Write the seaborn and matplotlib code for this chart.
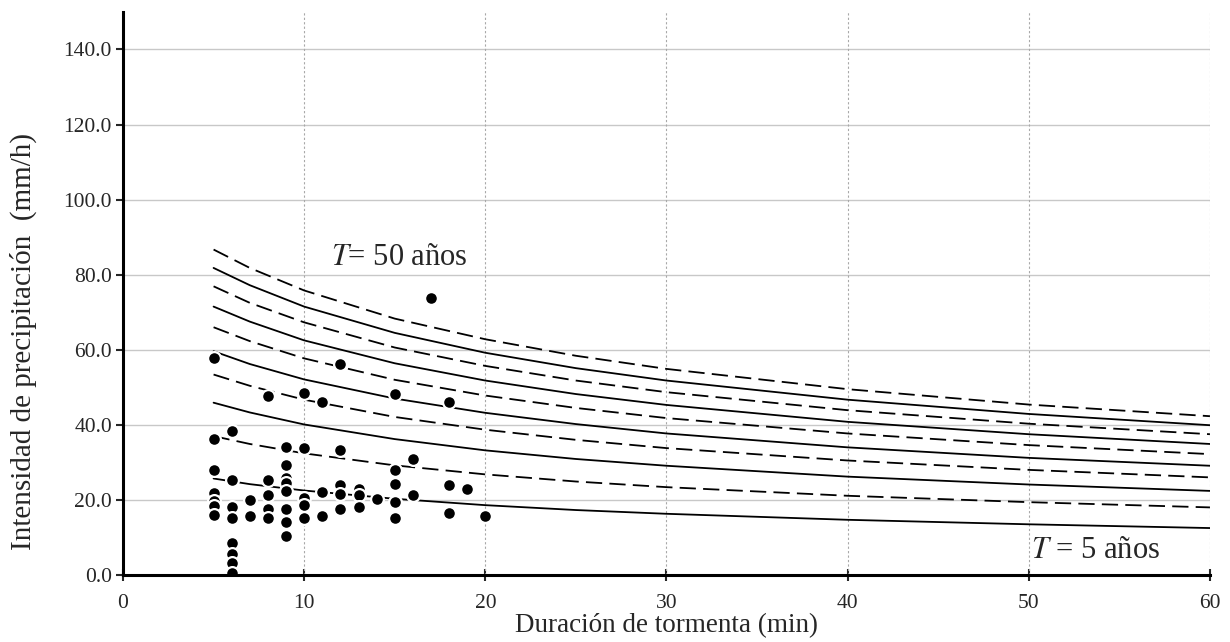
import matplotlib
matplotlib.use("Agg")
import matplotlib.pyplot as plt
import seaborn as sns
import pandas as pd
from matplotlib.ticker import FuncFormatter

# ---- data ----
durations = [5, 7, 10, 15, 20, 25, 30, 40, 50, 60]
return_periods = [5, 10, 15, 20, 25, 30, 35, 40, 45, 50]
T5 = [25.7, 24.2, 22.5, 20.3, 18.6, 17.3, 16.3, 14.7, 13.5, 12.5]
T10 = [37.0, 34.9, 32.4, 29.2, 26.8, 24.9, 23.4, 21.1, 19.4, 18.0]
T15 = [45.9, 43.3, 40.1, 36.2, 33.2, 30.9, 29.1, 26.2, 24.1, 22.4]
T20 = [53.4, 50.4, 46.7, 42.1, 38.7, 36.0, 33.8, 30.5, 28.0, 26.0]
T25 = [59.6, 56.2, 52.1, 47.0, 43.2, 40.2, 37.7, 34.0, 31.2, 29.1]
T30 = [66.0, 62.3, 57.7, 52.0, 47.8, 44.5, 41.8, 37.7, 34.6, 32.2]
T35 = [71.5, 67.5, 62.5, 56.4, 51.8, 48.2, 45.3, 40.8, 37.5, 34.9]
T40 = [76.9, 72.5, 67.3, 60.6, 55.7, 51.8, 48.7, 43.9, 40.3, 37.5]
T45 = [81.8, 77.2, 71.5, 64.5, 59.2, 55.1, 51.8, 46.7, 42.9, 39.9]
T50 = [86.7, 81.8, 75.8, 68.3, 62.8, 58.4, 54.9, 49.5, 45.4, 42.3]
curves = [T5, T10, T15, T20, T25, T30, T35, T40, T45, T50]

obs_duration = [5, 5, 5, 5, 5, 5, 5,
                6, 6, 6, 6, 6, 6, 6, 6,
                7, 7,
                8, 8, 8, 8, 8,
                9, 9, 9, 9, 9, 9, 9, 9,
                10, 10, 10, 10, 10,
                11, 11, 11,
                12, 12, 12, 12, 12,
                13, 13, 13,
                14,
                15, 15, 15, 15, 15,
                16, 16,
                17,
                18, 18, 18,
                19,
                20]
obs_intensity = [57.9, 36.3, 28.0, 21.8, 19.8, 18.3, 15.9,
                 38.4, 25.4, 18.1, 15.3, 8.4, 5.6, 3.1, 0.6,
                 20.1, 15.6,
                 47.7, 25.2, 21.4, 17.7, 15.3,
                 34.0, 29.2, 25.9, 24.5, 22.3, 17.7, 14.1, 10.3,
                 48.6, 33.9, 20.6, 18.7, 15.3,
                 46.1, 22.1, 15.6,
                 56.2, 33.2, 23.9, 21.7, 17.7,
                 23.0, 21.4, 18.0,
                 20.3,
                 48.2, 28.0, 24.3, 19.4, 15.3,
                 30.9, 21.4,
                 73.7,
                 46.0, 24.0, 16.4,
                 22.8,
                 15.7]

x_ticks = [0, 10, 20, 30, 40, 50, 60]
y_ticks = [0, 20, 40, 60, 80, 100, 120, 140]

# ---- build tables ----
rows = []
for T, vals in zip(return_periods, curves):
    for d, v in zip(durations, vals):
        rows.append({"T": T, "d": d, "i": v})
curve_df = pd.DataFrame(rows)
obs_df = pd.DataFrame({"d": obs_duration, "i": obs_intensity})

sns.set_style("white")
plt.rcParams["font.family"] = ["Liberation Serif", "DejaVu Serif"]
plt.rcParams["mathtext.fontset"] = "stix"

fig = plt.figure(figsize=(12.3, 6.42), dpi=100)
ax = fig.add_axes([0.1, 0.1044, 0.8837, 0.877])

palette = {T: "black" for T in return_periods}
dashes = {T: ("" if k % 2 == 0 else (9, 4)) for k, T in enumerate(return_periods)}

sns.lineplot(data=curve_df, x="d", y="i", hue="T", style="T",
             palette=palette, dashes=dashes, estimator=None,
             linewidth=1.3, legend=False, ax=ax, zorder=3)

sns.scatterplot(data=obs_df, x="d", y="i", color="black", s=85,
                edgecolor="white", linewidth=1.6, ax=ax, zorder=5,
                legend=False)

ax.set_xlim(0, 60)
ax.set_ylim(0, 150)
ax.set_xticks(x_ticks)
ax.set_yticks(y_ticks)
ax.yaxis.set_major_formatter(FuncFormatter(lambda v, p: f"{v:.1f}"))

ax.grid(False)
for yv in y_ticks[1:]:
    ax.axhline(yv, color="#c8c8c8", linewidth=1.0, zorder=1)
for xv in x_ticks[1:]:
    ax.axvline(xv, color="#a8a8a8", linewidth=0.8, linestyle=(0, (2, 2)), zorder=1)

for s in ["top", "right"]:
    ax.spines[s].set_visible(False)
for s in ["left", "bottom"]:
    ax.spines[s].set_linewidth(2.2)
    ax.spines[s].set_color("black")
    ax.spines[s].set_zorder(6)

ax.tick_params(axis="y", direction="out", length=5, width=1.5, labelsize=15.5,
               left=True, pad=3)
ax.tick_params(axis="x", direction="inout", length=8, width=1.5, labelsize=15.5,
               bottom=True, pad=10)

ax.set_xlabel("Duración de tormenta (min)", fontsize=19.5)
ax.xaxis.set_label_coords(0.5, -0.068)
ax.set_ylabel("Intensidad de precipitación  (mm/h)", fontsize=21)
ax.yaxis.set_label_coords(-0.079, 0.414)

ax.text(11.5, 84.5, "$T$= 50 años", fontsize=22, va="center", ha="left")
ax.text(50.1, 6.6, "$T$ = 5 años", fontsize=22, va="center", ha="left")

fig.savefig("out.png", dpi=100)
